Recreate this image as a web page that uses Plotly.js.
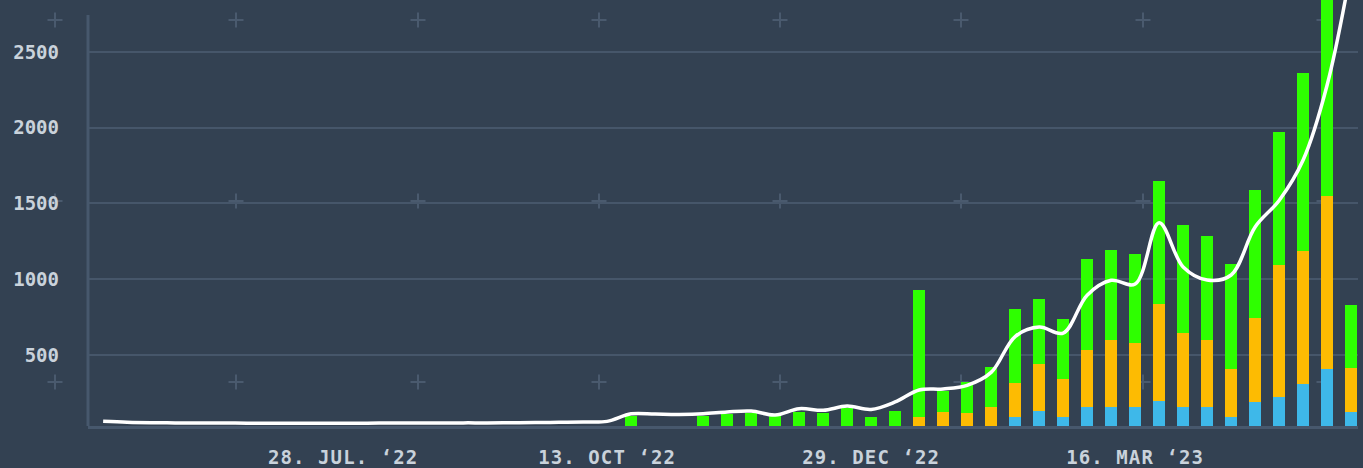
<!DOCTYPE html>
<html>
<head>
<meta charset="utf-8">
<script src="https://cdn.plot.ly/plotly-3.0.1.min.js"></script>
<style>
  html, body { margin: 0; padding: 0; background: #334152; }
  #chart { width: 1363px; height: 468px; }
  #chart .xtick text { letter-spacing: 1.1px; }
</style>
</head>
<body>
<div id="chart"></div>
<script>
// ---- Data ----
const lineDates = [
  '2022-05-19','2022-05-26','2022-06-02','2022-06-09','2022-06-16','2022-06-23','2022-06-30',
  '2022-07-07','2022-07-14','2022-07-21','2022-07-28','2022-08-04','2022-08-11','2022-08-18',
  '2022-08-25','2022-09-01','2022-09-08','2022-09-15','2022-09-22','2022-09-29','2022-10-06',
  '2022-10-13','2022-10-20','2022-10-27','2022-11-03','2022-11-10','2022-11-17','2022-11-24',
  '2022-12-01','2022-12-08','2022-12-15','2022-12-22','2022-12-29','2023-01-05','2023-01-12',
  '2023-01-19','2023-01-26','2023-02-02','2023-02-09','2023-02-16','2023-02-23','2023-03-02',
  '2023-03-09','2023-03-16','2023-03-23','2023-03-30','2023-04-06','2023-04-13','2023-04-20',
  '2023-04-27','2023-05-04','2023-05-11','2023-05-18'
];
const lineValues = [
  62, 56, 53, 52, 51, 51, 50, 50, 50, 50, 50, 50, 51, 51, 51, 52, 52, 53, 54, 56, 58,
  62, 112, 110, 108, 112, 124, 130, 104, 146, 135, 163, 141, 190, 269, 276, 300, 385,
  622, 684, 645, 895, 993, 968, 1373, 1081, 995, 1028, 1345, 1520, 1787, 2282, 3050
];

const barDates = [
  '2022-10-20','2022-10-27','2022-11-03','2022-11-10','2022-11-17','2022-11-24','2022-12-01',
  '2022-12-08','2022-12-15','2022-12-22','2022-12-29','2023-01-05','2023-01-12','2023-01-19',
  '2023-01-26','2023-02-02','2023-02-09','2023-02-16','2023-02-23','2023-03-02','2023-03-09',
  '2023-03-16','2023-03-23','2023-03-30','2023-04-06','2023-04-13','2023-04-20','2023-04-27',
  '2023-05-04','2023-05-11','2023-05-18'
];
const blueValues = [
  0, 0, 0, 0, 0, 0, 0, 0, 0, 0, 0, 0, 0, 0, 0, 0,
  91, 130, 91, 157, 157, 157, 196, 157, 157, 91, 192, 222, 309, 408, 124
];
const orangeValues = [
  0, 0, 0, 0, 0, 0, 0, 0, 0, 0, 0, 0, 93, 126, 119, 159,
  224, 313, 251, 378, 444, 424, 643, 488, 442, 317, 554, 872, 877, 1141, 290
];
const greenValues = [
  99, 0, 0, 99, 113, 119, 106, 126, 119, 152, 93, 132, 836, 136, 205, 262,
  489, 426, 395, 599, 592, 586, 810, 713, 686, 692, 843, 878, 1175, 1451, 416
];

const tickDates = ['2022-07-28', '2022-10-13', '2022-12-29', '2023-03-16'];
const tickTexts = ['28. JUL. \u201822', '13. OCT \u201822', '29. DEC \u201822', '16. MAR \u201823'];

// ---- Styling ----
const BG = '#334152';
const GRID = '#46566a';
const AXIS = '#47586d';
const LABEL = '#c9d2db';
const BAR_W = 3.5 * 24 * 3600 * 1000; // bar width in ms

const W = 1363, H = 468;
const M = { l: 88, r: 5, t: 0, b: 42 };
const PW = W - M.l - M.r, PH = H - M.t - M.b;

// decorative plus signs (pixel positions of the background pattern)
const plusX = [55, 236, 418, 599, 780, 961, 1143, 1324];
const plusY = [20, 201, 382];
const shapes = [];
const arm = 7.5;
plusX.forEach(px => plusY.forEach(py => {
  const toX = p => (p - M.l) / PW;
  const toY = p => (M.t + PH - p) / PH;
  shapes.push({ type: 'line', xref: 'paper', yref: 'paper', layer: 'below',
    x0: toX(px - arm), x1: toX(px + arm), y0: toY(py), y1: toY(py),
    line: { color: '#4a5a6e', width: 2 } });
  shapes.push({ type: 'line', xref: 'paper', yref: 'paper', layer: 'below',
    x0: toX(px), x1: toX(px), y0: toY(py - arm), y1: toY(py + arm),
    line: { color: '#4a5a6e', width: 2 } });
}));
// y-axis line (starts a little below the top of the picture)
shapes.push({ type: 'line', xref: 'paper', yref: 'paper', layer: 'above',
  x0: 0, x1: 0, y0: 0, y1: (PH - 15) / PH, line: { color: AXIS, width: 3 } });

const traces = [
  { type: 'bar', x: barDates, y: blueValues, width: BAR_W, marker: { color: '#3eb8e9' }, name: 'blue' },
  { type: 'bar', x: barDates, y: orangeValues, width: BAR_W, marker: { color: '#fdbb02' }, name: 'orange' },
  { type: 'bar', x: barDates, y: greenValues, width: BAR_W, marker: { color: '#2eff00' }, name: 'green' },
  { type: 'scatter', mode: 'lines', x: lineDates, y: lineValues,
    line: { color: '#ffffff', width: 3.5, shape: 'spline', smoothing: 1 }, name: 'trend' }
];

const tickFont = { family: 'DejaVu Sans Mono', size: 19, color: LABEL, weight: 'bold' };

const layout = {
  width: W, height: H,
  margin: M,
  paper_bgcolor: BG, plot_bgcolor: BG,
  barmode: 'stack',
  showlegend: false,
  xaxis: {
    type: 'date',
    range: ['2022-05-14 14:00', '2023-05-20 00:00'],
    tickmode: 'array', tickvals: tickDates, ticktext: tickTexts,
    showgrid: false, zeroline: false,
    showline: true, linecolor: AXIS, linewidth: 3,
    ticks: '', tickfont: tickFont, ticklabelstandoff: 12
  },
  yaxis: {
    range: [31.4, 2843],
    tickmode: 'linear', tick0: 0, dtick: 500,
    showgrid: true, gridcolor: GRID, gridwidth: 2,
    zeroline: false, showline: false,
    ticks: '', tickfont: tickFont, ticklabelstandoff: 28
  },
  shapes: shapes
};

Plotly.newPlot('chart', traces, layout, { staticPlot: true, displayModeBar: false });
</script>
</body>
</html>
